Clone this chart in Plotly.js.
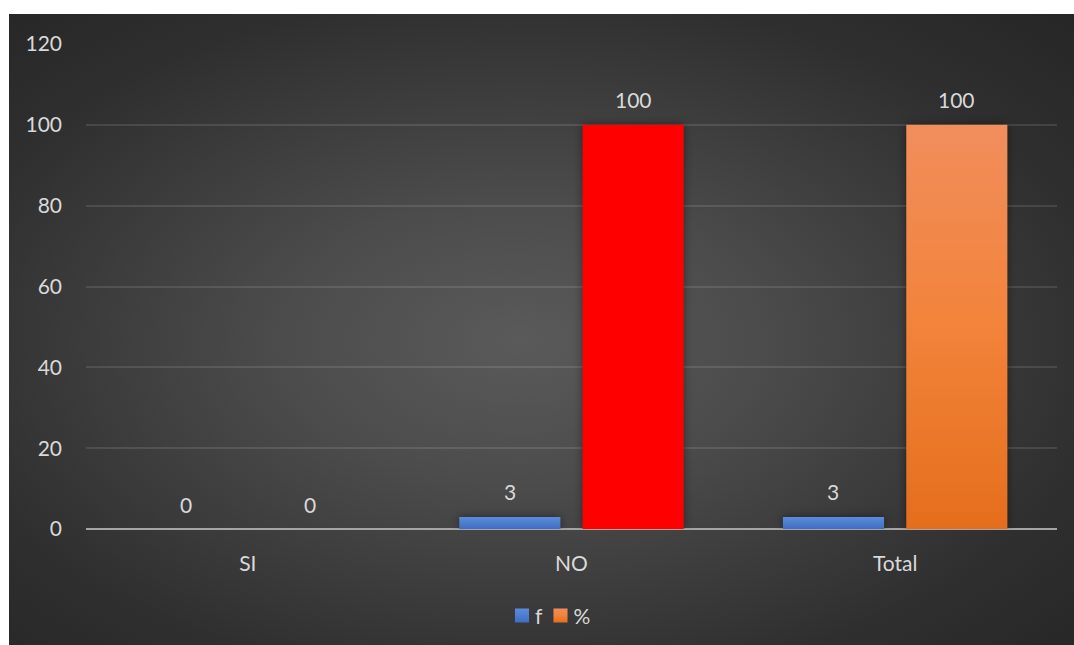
<!DOCTYPE html>
<html>
<head>
<meta charset="utf-8">
<script src="https://cdn.plot.ly/plotly-3.0.1.min.js"></script>
<style>
  html, body { margin: 0; padding: 0; background: #ffffff; }
  #frame {
    position: absolute; left: 9px; top: 14px; width: 1065px; height: 631px;
    background: radial-gradient(ellipse farthest-corner at 48% 52%, #5a5a5a 0%, #4c4c4c 30%, #2f2f2f 75%, #262626 100%);
  }
  #chart { width: 1065px; height: 631px; }
  .barlayer .point path { filter: drop-shadow(0px 0px 4px rgba(0,0,0,0.45)); }
</style>
</head>
<body>
<svg width="0" height="0" style="position:absolute">
  <defs>
    <linearGradient id="gradBlue" x1="0" y1="0" x2="0" y2="1">
      <stop offset="0" stop-color="#5b8ddb"/>
      <stop offset="1" stop-color="#3f6dc3"/>
    </linearGradient>
    <linearGradient id="gradOrange" x1="0" y1="0" x2="0" y2="1">
      <stop offset="0" stop-color="#f18e5c"/>
      <stop offset="0.5" stop-color="#f2833a"/>
      <stop offset="1" stop-color="#e56e1c"/>
    </linearGradient>
  </defs>
</svg>
<div id="frame"><div id="chart"></div></div>
<script>
// categories and series
var categories = ['SI', 'NO', 'Total'];
var fValues = [0, 3, 3];
var pctValues = [0, 100, 100];
var seriesNames = ['f', '%'];

var labelColor = '#d9d9d9';
var fontFamily = 'Lato, "Open Sans", sans-serif';
var fontSize = 21;

var traces = [
  {
    type: 'bar', name: seriesNames[0], x: categories, y: fValues,
    marker: { color: '#4a7bd0', line: { width: 0 } },
    hoverinfo: 'skip'
  },
  {
    type: 'bar', name: seriesNames[1], x: categories, y: pctValues,
    marker: { color: ['#f2833a', '#ff0000', '#f2833a'], line: { width: 0 } },
    hoverinfo: 'skip'
  }
];

// value labels above each bar, offset to the bar's slot within the group
var slotShift = 61.75;
var annotations = [];
[fValues, pctValues].forEach(function (vals, s) {
  vals.forEach(function (v, i) {
    annotations.push({
      x: categories[i], y: v, xref: 'x', yref: 'y',
      text: String(v), showarrow: false,
      xshift: s === 0 ? -slotShift : slotShift,
      yshift: 25, yanchor: 'middle',
      font: { family: fontFamily, size: fontSize, color: labelColor }
    });
  });
});

var layout = {
  width: 1065, height: 631,
  margin: { l: 77, r: 17, t: 30, b: 114 },
  paper_bgcolor: 'rgba(0,0,0,0)',
  plot_bgcolor: 'rgba(0,0,0,0)',
  barmode: 'group', bargap: 0.238, bargroupgap: 0.18,
  font: { family: fontFamily, size: fontSize, color: labelColor },
  xaxis: {
    type: 'category', showgrid: false, showline: false, zeroline: false,
    ticks: '', ticklabelstandoff: 20,
    tickfont: { family: fontFamily, size: fontSize, color: labelColor }
  },
  yaxis: {
    range: [0, 120], tickvals: [0, 20, 40, 60, 80, 100, 120],
    showgrid: true, gridcolor: 'rgba(255,255,255,0.11)', gridwidth: 2,
    zeroline: true, zerolinecolor: '#a5a5a5', zerolinewidth: 2,
    showline: false, ticks: '', ticklabelstandoff: 23,
    tickfont: { family: fontFamily, size: fontSize, color: labelColor }
  },
  showlegend: true,
  legend: {
    orientation: 'h', x: 0.5, xanchor: 'center', y: -0.172, yanchor: 'middle',
    font: { family: fontFamily, size: fontSize, color: labelColor },
    itemwidth: 30, itemclick: false, itemdoubleclick: false
  },
  annotations: annotations
};

function parseTranslate(el) {
  var t = el.getAttribute('transform') || '';
  var m = /translate\(\s*([-\d.e]+)[ ,]+([-\d.e]+)\s*\)/.exec(t);
  return m ? [parseFloat(m[1]), parseFloat(m[2])] : [0, 0];
}

function applyStyling() {
  var gd = document.getElementById('chart');
  gd.querySelectorAll('.barlayer .trace').forEach(function (g, t) {
    g.querySelectorAll('.point path').forEach(function (p, i) {
      if (t === 0) p.style.fill = 'url(#gradBlue)';
      else if (categories[i] !== 'NO') p.style.fill = 'url(#gradOrange)';
    });
  });

  // compact legend: larger swatches, text close to its swatch
  var frameRect = gd.getBoundingClientRect();
  var items = gd.querySelectorAll('.legend .traces');
  var targets = [513, 551.5];   // swatch centres, in chart pixels
  var targetY = 601.5;
  items.forEach(function (g, i) {
    var path = g.querySelector('.legendpoints path');
    var txt = g.querySelector('text.legendtext');
    if (path) {
      path.style.fill = i === 0 ? 'url(#gradBlue)' : 'url(#gradOrange)';
      var base = path.getAttribute('transform') || '';
      path.setAttribute('transform', base + ' scale(1.17)');
    }
    if (txt) txt.setAttribute('x', 33);
  });
  var legend = gd.querySelector('.legend');
  if (legend && items.length) {
    var r0 = items[0].querySelector('.legendpoints path').getBoundingClientRect();
    var dx = targets[0] - (r0.left - frameRect.left + r0.width / 2);
    var dy = targetY - (r0.top - frameRect.top + r0.height / 2);
    var lt = parseTranslate(legend);
    legend.setAttribute('transform', 'translate(' + (lt[0] + dx) + ',' + (lt[1] + dy) + ')');
    for (var i = 1; i < items.length; i++) {
      var ri = items[i].querySelector('.legendpoints path').getBoundingClientRect();
      var di = targets[i] - (ri.left - frameRect.left + ri.width / 2);
      var it = parseTranslate(items[i]);
      items[i].setAttribute('transform', 'translate(' + (it[0] + di) + ',' + it[1] + ')');
    }
  }
}

Plotly.newPlot('chart', traces, layout, { displayModeBar: false, staticPlot: true })
  .then(applyStyling);
</script>
</body>
</html>
